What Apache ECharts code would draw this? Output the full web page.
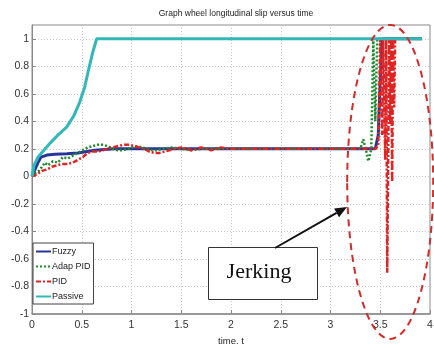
<!DOCTYPE html>
<html>
<head>
<meta charset="utf-8">
<script src="https://cdn.jsdelivr.net/npm/echarts@6/dist/echarts.min.js"></script>
<style>
  html, body { margin: 0; padding: 0; background: #fff; }
  #chart { width: 434px; height: 344px; }
</style>
</head>
<body>
<div id="chart"></div>
<script>
// values (time in s, slip)
const xTicks = [0, 0.5, 1, 1.5, 2, 2.5, 3, 3.5, 4]
const yTicks = [-1, -0.8, -0.6, -0.4, -0.2, 0, 0.2, 0.4, 0.6, 0.8, 1]

const fuzzyT = [0, 0.03, 0.06, 0.09, 0.15, 0.23, 0.35, 0.46, 0.63, 0.83, 1.2, 2, 3, 3.45, 3.48, 3.5, 3.52, 3.92]
const fuzzyV = [0, 0.05, 0.10, 0.14, 0.155, 0.16, 0.165, 0.17, 0.19, 0.20, 0.2, 0.2, 0.2, 0.2, 0.3, 0.7, 1, 1]

const adapT = [0, 0.02, 0.07, 0.10, 0.13, 0.16, 0.21, 0.26, 0.31, 0.36,
  0.41, 0.46, 0.51, 0.56, 0.61, 0.66, 0.71, 0.76, 0.81, 0.86,
  0.91, 0.96, 1.01, 1.06, 1.11, 1.16, 1.21, 1.26, 1.31, 1.4,
  1.5, 1.6, 1.7, 1.8, 2.0, 2.5, 3.0, 3.3, 3.33, 3.36,
  3.38, 3.41, 3.43, 3.45, 3.47, 3.49, 3.92]
const adapV = [0, 0.02, 0.04, 0.07, 0.10, 0.08, 0.11, 0.10, 0.14, 0.13,
  0.15, 0.17, 0.19, 0.21, 0.22, 0.23, 0.23, 0.22, 0.20, 0.19,
  0.19, 0.20, 0.21, 0.22, 0.21, 0.20, 0.19, 0.19, 0.20, 0.21,
  0.2, 0.19, 0.2, 0.2, 0.2, 0.2, 0.2, 0.2, 0.27, 0.18,
  0.11, 0.2, 1.0, 0.4, 1.0, 1.0, 1.0]

const pidT = [0, 0.02, 0.06, 0.1, 0.15, 0.2, 0.25, 0.3, 0.36, 0.41,
  0.46, 0.51, 0.56, 0.61, 0.66, 0.71, 0.76, 0.81, 0.86, 0.93,
  0.98, 1.03, 1.08, 1.13, 1.18, 1.23, 1.28, 1.33, 1.38, 1.43,
  1.5, 1.6, 1.7, 1.8, 1.9, 2.0, 2.2, 2.5, 3.0, 3.45,
  3.48, 3.5, 3.52, 3.53, 3.55, 3.56, 3.57, 3.59, 3.6, 3.61,
  3.62, 3.63, 3.64, 3.65, 3.92]
const pidV = [0, 0, 0.02, 0.04, 0.05, 0.07, 0.08, 0.09, 0.09, 0.10,
  0.12, 0.14, 0.17, 0.18, 0.18, 0.19, 0.20, 0.21, 0.22, 0.23,
  0.23, 0.22, 0.21, 0.20, 0.18, 0.17, 0.17, 0.18, 0.19, 0.20,
  0.21, 0.19, 0.21, 0.19, 0.21, 0.2, 0.2, 0.2, 0.2, 0.2,
  0.22, 1.0, 0.3, 1.0, 0.12, 1.0, -0.7, 1.0, 0.38, 1.0,
  -0.04, 1.0, 0.5, 1.0, 1.0]

const passiveT = [0, 0.02, 0.06, 0.12, 0.18, 0.26, 0.35, 0.42, 0.48, 0.53, 0.57, 0.61, 0.65, 3.92]
const passiveV = [0, 0.08, 0.14, 0.19, 0.24, 0.30, 0.36, 0.44, 0.54, 0.65, 0.78, 0.9, 1.0, 1.0]

const pairs = (ts, vs) => ts.map((t, i) => [t, vs[i]])

const sans = '"Liberation Sans", Arial, sans-serif'
const gridColor = '#c8c8c8'
const frameColor = '#8a8a8a'

const chart = echarts.init(document.getElementById('chart'), null, { renderer: 'canvas' })

const lineSeries = (name, data, color, width, type) => ({
  name,
  type: 'line',
  data,
  showSymbol: false,
  symbol: 'none',
  smooth: false,
  lineStyle: { color, width, type },
  itemStyle: { color },
  z: 2
})

chart.setOption({
  animation: false,
  backgroundColor: '#fff',
  title: {
    text: 'Graph wheel longitudinal slip versus time',
    left: 231, top: 4, textAlign: 'center',
    textStyle: { fontFamily: sans, fontSize: 8.5, fontWeight: 'normal', color: '#222' }
  },
  grid: {
    left: 32, right: 4, top: 25, bottom: 30,
    containLabel: false, outerBoundsMode: 'none',
    show: true, borderColor: frameColor, borderWidth: 1
  },
  legend: {
    orient: 'vertical',
    left: 33, top: 243,
    itemWidth: 15, itemHeight: 6, itemGap: 6,
    padding: [4, 3, 3, 2],
    backgroundColor: '#fff',
    borderColor: '#444', borderWidth: 1,
    itemStyle: { opacity: 0 },
    textStyle: { fontFamily: sans, fontSize: 9, color: '#222', padding: [0, 0, 0, -4] },
    data: ['Fuzzy', 'Adap PID', 'PID', 'Passive']
  },
  xAxis: {
    type: 'value', min: xTicks[0], max: xTicks[xTicks.length - 1], interval: 0.5,
    name: 'time, t', nameLocation: 'middle', nameGap: 19,
    nameTextStyle: { fontFamily: sans, fontSize: 9.5, color: '#222' },
    axisLine: { show: true, onZero: false, lineStyle: { color: frameColor, width: 1.5 } },
    axisTick: { show: true, inside: true, length: 4, lineStyle: { color: frameColor } },
    axisLabel: { fontFamily: sans, fontSize: 10.5, color: '#333', margin: 6 },
    splitLine: { show: true, lineStyle: { color: gridColor, type: [1, 2] } }
  },
  yAxis: {
    type: 'value', min: yTicks[0], max: 1.1, interval: 0.2,
    name: 'wheel longitudinal slip', nameLocation: 'middle', nameGap: 24, nameRotate: 90,
    nameTextStyle: { fontFamily: sans, fontSize: 11.5, color: '#222' },
    axisLine: { show: true, onZero: false, lineStyle: { color: frameColor, width: 1 } },
    axisTick: { show: true, inside: true, length: 4, lineStyle: { color: frameColor } },
    axisLabel: {
      fontFamily: sans, fontSize: 10.5, color: '#333', margin: 3,
      showMaxLabel: false,
      formatter: v => (yTicks.some(t => Math.abs(t - v) < 1e-6) ? String(Math.round(v * 10) / 10) : '')
    },
    splitLine: { show: true, lineStyle: { color: gridColor, type: [1, 2] } }
  },
  series: [
    lineSeries('Fuzzy', pairs(fuzzyT, fuzzyV), '#27359a', 3, 'solid'),
    lineSeries('Adap PID', pairs(adapT, adapV), '#1d8a2c', 2.5, [2, 2]),
    lineSeries('PID', pairs(pidT, pidV), '#e02424', 2.5, [5, 2, 2, 2]),
    lineSeries('Passive', pairs(passiveT, passiveV), '#33b8b8', 3, 'solid')
  ]
})

// annotations: dashed ellipse around the jerking region, label box and arrow
const c = chart.convertToPixel({ gridIndex: 0 }, [3.6, -0.04])
const tip = [347, 207]
const tail = [275, 248]
const ang = Math.atan2(tip[1] - tail[1], tip[0] - tail[0])
const hl = 12, hw = 5
const base = [tip[0] - hl * Math.cos(ang), tip[1] - hl * Math.sin(ang)]
const head = [
  tip,
  [base[0] + hw * Math.sin(ang), base[1] - hw * Math.cos(ang)],
  [base[0] - hw * Math.sin(ang), base[1] + hw * Math.cos(ang)]
]

chart.setOption({
  graphic: [
    {
      type: 'ellipse', z: 100,
      shape: { cx: c[0], cy: c[1], rx: 43, ry: 157 },
      style: { fill: null, stroke: '#d42a2a', lineWidth: 2, lineDash: [7, 5] }
    },
    {
      type: 'rect', z: 100,
      shape: { x: 208.5, y: 247.5, width: 109, height: 52 },
      style: { fill: '#fff', stroke: '#333', lineWidth: 1 }
    },
    {
      type: 'text', z: 101,
      style: {
        x: 259, y: 272, text: 'Jerking', align: 'center', verticalAlign: 'middle',
        font: '22px "Liberation Serif", "Times New Roman", serif', fill: '#111'
      }
    },
    {
      type: 'line', z: 100,
      shape: { x1: tail[0], y1: tail[1], x2: base[0], y2: base[1] },
      style: { stroke: '#111', lineWidth: 2 }
    },
    {
      type: 'polygon', z: 100,
      shape: { points: head },
      style: { fill: '#111' }
    }
  ]
})
</script>
</body>
</html>
